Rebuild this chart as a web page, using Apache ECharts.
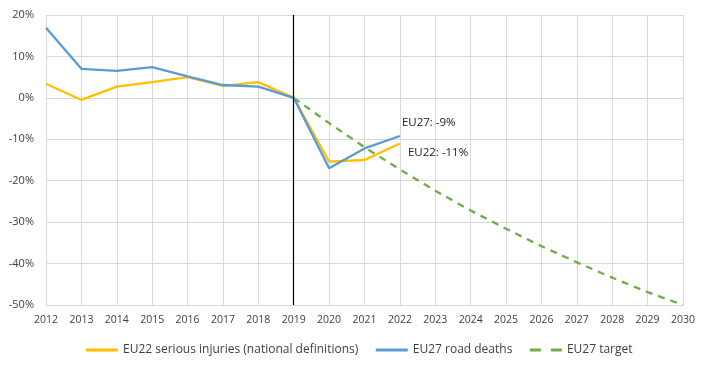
<!DOCTYPE html>
<html><head><meta charset="utf-8">
<script src="https://cdn.jsdelivr.net/npm/echarts@6/dist/echarts.min.js"></script>
<style>html,body{margin:0;padding:0;background:#fff}#c{width:717px;height:367px}</style>
</head><body><div id="c"></div>
<script>
const years = ['2012','2013','2014','2015','2016','2017','2018','2019','2020','2021','2022','2023','2024','2025','2026','2027','2028','2029','2030'];
const injuries = [3.4, -0.5, 2.7, 3.8, 5.0, 2.9, 3.8, 0, -15.4, -15.0, -11.0];
const deaths = [16.9, 7.0, 6.5, 7.4, 5.2, 3.1, 2.7, 0, -17.0, -12.2, -9.2];
const target = [null, null, null, null, null, null, null, 0, -6.1, -11.9, -17.3, -22.4, -27.2, -31.6, -35.8, -39.7, -43.4, -46.9, -50.0];
const yTicks = [-50, -40, -30, -20, -10, 0, 10, 20];
const font = 'Open Sans';
const txt = '#404040';
function endMark(arr, text, offset) {
  const i = arr.length - 1;
  return {
    silent: true, symbol: 'circle', symbolSize: 0,
    label: {show: true, position: 'right', offset: offset, formatter: text, color: '#222', fontSize: 11.5, fontFamily: font},
    data: [{coord: [years[i], arr[i]]}]
  };
}
const chart = echarts.init(document.getElementById('c'));
chart.setOption({
  animation: false,
  grid: {left: 46, right: 34, top: 15, bottom: 62},
  legend: {
    bottom: 6, left: 'center', itemWidth: 32, itemHeight: 10, itemGap: 16,
    itemStyle: {opacity: 0},
    lineStyle: {width: 3},
    textStyle: {color: txt, fontSize: 12, fontFamily: font},
    data: ['EU22 serious injuries (national definitions)', 'EU27 road deaths',
      {name: 'EU27 target', lineStyle: {width: 3, type: [11, 10]}}]
  },
  xAxis: {
    type: 'category', data: years, boundaryGap: false,
    axisLine: {lineStyle: {color: '#d9d9d9'}}, axisTick: {show: false},
    axisLabel: {color: txt, fontSize: 10.5, fontFamily: font, margin: 10},
    splitLine: {show: true, lineStyle: {color: '#d9d9d9'}}
  },
  yAxis: {
    type: 'value', min: yTicks[0], max: yTicks[yTicks.length - 1], interval: 10,
    axisLine: {show: false}, axisTick: {show: false},
    axisLabel: {color: txt, fontSize: 11, fontFamily: font, margin: 12, formatter: v => v + '%'},
    splitLine: {lineStyle: {color: '#d9d9d9'}}
  },
  series: [
    {name: 'EU22 serious injuries (national definitions)', type: 'line', data: injuries,
     symbol: 'none', color: '#FFC000', lineStyle: {width: 2.3, color: '#FFC000'}, z: 3,
     markPoint: endMark(injuries, 'EU22: -11%', [3, 9])},
    {name: 'EU27 road deaths', type: 'line', data: deaths,
     symbol: 'none', color: '#5B9BD5', lineStyle: {width: 2.3, color: '#5B9BD5'}, z: 4,
     markPoint: endMark(deaths, 'EU27: -9%', [-3, -13]),
     markLine: {silent: true, symbol: 'none', label: {show: false}, lineStyle: {color: '#000', width: 1.2, type: 'solid'}, data: [{xAxis: '2019'}]}},
    {name: 'EU27 target', type: 'line', data: target, symbol: 'none', color: '#70AD47',
     lineStyle: {width: 2.3, color: '#70AD47', type: [7, 6]}, z: 2}
  ]
});
</script></body></html>
